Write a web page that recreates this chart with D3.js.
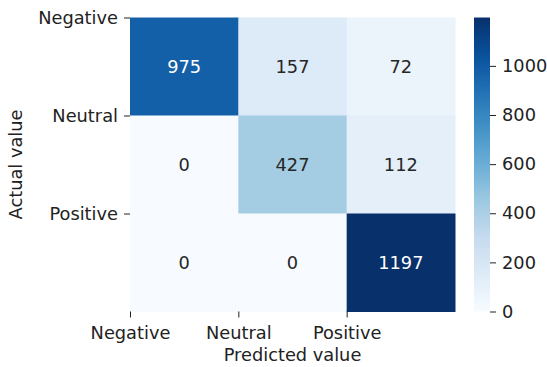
<!DOCTYPE html>
<html>
<head>
<meta charset="utf-8">
<script src="https://cdn.jsdelivr.net/npm/d3@7"></script>
<style>
  body { margin: 0; background: #fff; }
  text { font-family: "DejaVu Sans", sans-serif; }
</style>
</head>
<body>
<div id="chart"></div>
<script>
// confusion matrix values
var labels = ["Negative", "Neutral", "Positive"];
var rowNegative = [975, 157, 72];
var rowNeutral = [0, 427, 112];
var rowPositive = [0, 0, 1197];
var cbTicks = [0, 200, 400, 600, 800, 1000];

var matrix = [rowNegative, rowNeutral, rowPositive];

var width = 547, height = 367;
var plot = {left: 130, top: 17.5, right: 455, bottom: 311.5};
var fs = 17.8;

var svg = d3.select("#chart").append("svg")
    .attr("width", width)
    .attr("height", height);

var cells = [];
matrix.forEach(function(row, i) {
    row.forEach(function(v, j) {
        cells.push({row: i, col: j, value: v});
    });
});

var vmax = d3.max(cells, d => d.value);

// matplotlib "Blues"
var bluesStops = ["#f7fbff", "#deebf7", "#c6dbef", "#9ecae1", "#6baed6", "#4292c6", "#2171b5", "#08519c", "#08306b"];
var color = d3.scaleLinear()
    .domain(bluesStops.map((_, i) => i / (bluesStops.length - 1) * vmax))
    .range(bluesStops)
    .interpolate(d3.interpolateRgb)
    .clamp(true);

var x = d3.scaleBand().domain([0, 1, 2]).range([plot.left, plot.right]);
var y = d3.scaleBand().domain([0, 1, 2]).range([plot.top, plot.bottom]);

svg.selectAll(".cell")
    .data(cells)
    .enter().append("rect")
    .attr("class", "cell")
    .attr("x", d => x(d.col))
    .attr("y", d => y(d.row))
    .attr("width", x.bandwidth() + 0.5)
    .attr("height", y.bandwidth() + 0.5)
    .attr("fill", d => color(d.value));

svg.selectAll(".annot")
    .data(cells)
    .enter().append("text")
    .attr("class", "annot")
    .attr("x", d => x(d.col) + x.bandwidth() / 2)
    .attr("y", d => y(d.row) + y.bandwidth() / 2)
    .attr("dy", "0.36em")
    .attr("text-anchor", "middle")
    .attr("font-size", fs)
    .attr("fill", d => d3.lab(color(d.value)).l < 55 ? "#ffffff" : "#262626")
    .text(d => d.value);

// ticks sit on cell edges (like the original figure)
var xTick = d3.scaleLinear().domain([0, 3]).range([plot.left, plot.right]);
var yTick = d3.scaleLinear().domain([0, 3]).range([plot.top, plot.bottom]);

var xAxis = svg.append("g")
    .attr("transform", "translate(0," + plot.bottom + ")")
    .call(d3.axisBottom(xTick).tickValues([0, 1, 2]).tickFormat(i => labels[i]).tickSize(6).tickPadding(6));

var yAxis = svg.append("g")
    .attr("transform", "translate(" + plot.left + ",0)")
    .call(d3.axisLeft(yTick).tickValues([0, 1, 2]).tickFormat(i => labels[i]).tickSize(6).tickPadding(6));

[xAxis, yAxis].forEach(function(g) {
    g.select(".domain").remove();
    g.selectAll("line").attr("stroke", "#222").attr("stroke-width", 1);
    g.selectAll("text").attr("font-size", fs).attr("fill", "#222")
        .style("font-family", "DejaVu Sans, sans-serif");
});
xAxis.selectAll("text").attr("y", 27.5).attr("dy", 0);

svg.append("text")
    .attr("x", (plot.left + plot.right) / 2)
    .attr("y", 361)
    .attr("text-anchor", "middle")
    .attr("font-size", fs)
    .attr("fill", "#222")
    .text("Predicted value");

svg.append("text")
    .attr("transform", "translate(22," + ((plot.top + plot.bottom) / 2) + ") rotate(-90)")
    .attr("text-anchor", "middle")
    .attr("font-size", fs)
    .attr("fill", "#222")
    .text("Actual value");

// colorbar
var cb = {left: 474, right: 490};
var cbScale = d3.scaleLinear().domain([0, vmax]).range([plot.bottom, plot.top]);

var defs = svg.append("defs");
var grad = defs.append("linearGradient")
    .attr("id", "cbGrad")
    .attr("x1", 0).attr("y1", 1).attr("x2", 0).attr("y2", 0);
d3.range(0, 1.0001, 0.05).forEach(function(t) {
    grad.append("stop")
        .attr("offset", t)
        .attr("stop-color", color(t * vmax));
});

svg.append("rect")
    .attr("x", cb.left)
    .attr("y", plot.top)
    .attr("width", cb.right - cb.left)
    .attr("height", plot.bottom - plot.top)
    .attr("fill", "url(#cbGrad)");

var cbAxis = svg.append("g")
    .attr("transform", "translate(" + cb.right + ",0)")
    .call(d3.axisRight(cbScale).tickValues(cbTicks).tickFormat(d3.format("d")).tickSize(6).tickPadding(6));
cbAxis.select(".domain").remove();
cbAxis.selectAll("line").attr("stroke", "#222");
cbAxis.selectAll("text").attr("font-size", fs).attr("fill", "#222")
    .style("font-family", "DejaVu Sans, sans-serif");
</script>
</body>
</html>
